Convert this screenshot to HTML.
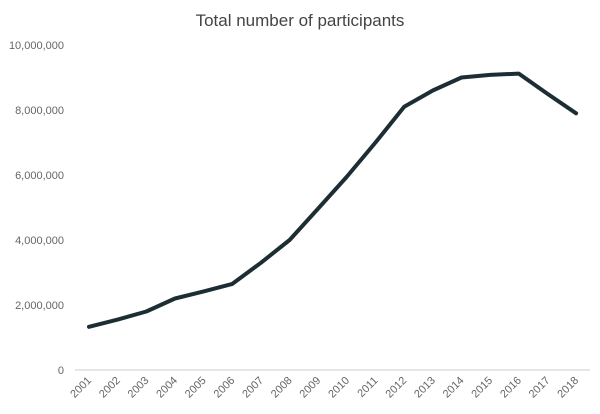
<!DOCTYPE html>
<html><head><style>body{margin:0;background:#fff}</style></head><body>
<svg width="600" height="409" xmlns="http://www.w3.org/2000/svg" font-family="Liberation Sans, sans-serif">
<text x="300" y="26" text-anchor="middle" font-size="17" fill="#444">Total number of participants</text>
<line x1="75" y1="370" x2="590" y2="370" stroke="#ccc" stroke-width="1"/>
<g font-size="11" fill="#666" text-anchor="end">
<text x="64" y="374">0</text>
<text x="64" y="309">2,000,000</text>
<text x="64" y="244">4,000,000</text>
<text x="64" y="179">6,000,000</text>
<text x="64" y="114">8,000,000</text>
<text x="64" y="49">10,000,000</text>
</g>
<g font-size="11" fill="#666" text-anchor="end">
<text transform="translate(92,381) rotate(-45)">2001</text>
<text transform="translate(120.7,381) rotate(-45)">2002</text>
<text transform="translate(149.3,381) rotate(-45)">2003</text>
<text transform="translate(178,381) rotate(-45)">2004</text>
<text transform="translate(206.6,381) rotate(-45)">2005</text>
<text transform="translate(235.3,381) rotate(-45)">2006</text>
<text transform="translate(263.9,381) rotate(-45)">2007</text>
<text transform="translate(292.6,381) rotate(-45)">2008</text>
<text transform="translate(321.2,381) rotate(-45)">2009</text>
<text transform="translate(349.9,381) rotate(-45)">2010</text>
<text transform="translate(378.5,381) rotate(-45)">2011</text>
<text transform="translate(407.2,381) rotate(-45)">2012</text>
<text transform="translate(435.8,381) rotate(-45)">2013</text>
<text transform="translate(464.5,381) rotate(-45)">2014</text>
<text transform="translate(493.1,381) rotate(-45)">2015</text>
<text transform="translate(521.8,381) rotate(-45)">2016</text>
<text transform="translate(550.4,381) rotate(-45)">2017</text>
<text transform="translate(579.1,381) rotate(-45)">2018</text>
</g>
<polyline fill="none" stroke="#1c2e33" stroke-width="4" stroke-linejoin="round" stroke-linecap="round" points="89,326.8 117.7,319.6 146.3,311.5 175,298.5 203.6,291.4 232.3,283.9 260.9,262.8 289.6,240 318.2,208.5 346.9,176.6 375.5,142.5 404.2,106.8 432.8,90.5 461.5,77.5 490.1,74.9 518.8,73.6 547.4,93.8 576.1,113.3"/>
</svg>
</body></html>
